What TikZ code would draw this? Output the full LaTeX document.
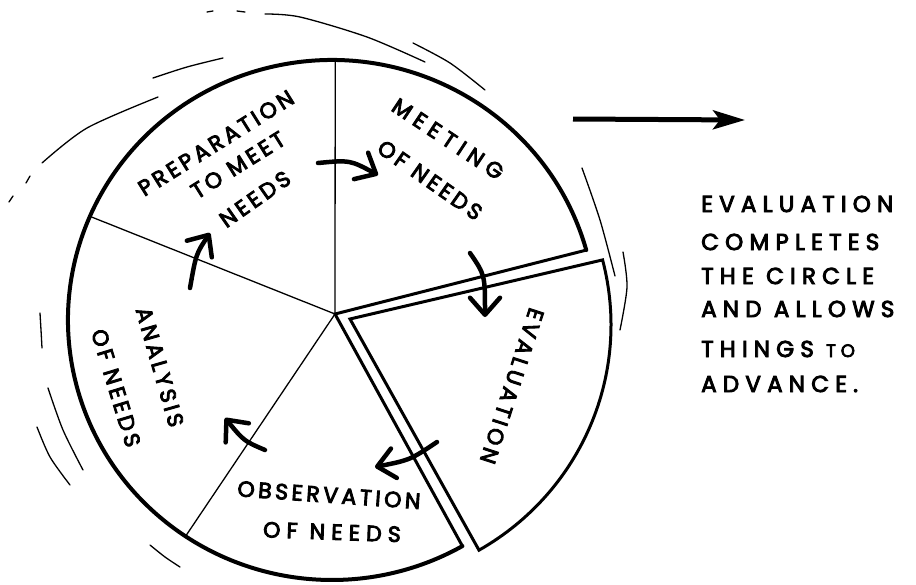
\documentclass[tikz,border=0pt]{standalone}
\usepackage{fontspec}
\newfontfamily\handA[LetterSpace=16,FakeBold=4]{Poppins}
\newfontfamily\handW[LetterSpace=28,FakeBold=4]{Poppins}
\newfontfamily\handB[LetterSpace=27,FakeBold=4]{Poppins}
\usetikzlibrary{arrows.meta,calc}
\begin{document}
\begin{tikzpicture}[x=1pt,y=-1pt,
  thinline/.style={line width=1.3pt},
  rim/.style={line width=4pt, line cap=round},
  edge/.style={line width=3pt, line cap=round},
  evalrim/.style={line width=3pt, line join=miter},
  swoosh/.style={line width=1.3pt, line cap=round},
  flow/.style={line width=4.5pt, line cap=round, -{Straight Barb[round,length=17pt,width=30pt]}},
  bigarrow/.style={line width=5pt, -{Stealth[length=32pt,width=19pt,inset=7pt]}},
  lbl/.style={font=\handA\fontsize{22}{24}\selectfont, inner sep=0pt},
  wlbl/.style={font=\handW\fontsize{22}{24}\selectfont, inner sep=0pt},
  note/.style={font=\handB\fontsize{23}{25}\selectfont, inner sep=0pt, anchor=base west},
]
\useasboundingbox (0,0) rectangle (916,584);
% geometry
\coordinate (E) at (332,320);
\coordinate (V) at (335,314);
\coordinate (pTop) at ($(E)+(-89.3:264 and 260)$);
\coordinate (pUL) at ($(E)+(-156.5:264 and 260)$);
\coordinate (pLL) at ($(E)+(123.7:264 and 260)$);
\coordinate (pMeet) at ($(E)+(-15.6:264 and 260)$);
\coordinate (pObs) at ($(E)+(60.4:264 and 260)$);
\coordinate (E2) at (347,325);
\coordinate (V2) at (350,319);
\coordinate (q1) at ($(E2)+(-14.5:264 and 260)$);
% main pie
\draw[rim] (pMeet) arc[start angle=-15.6, end angle=-299.6, x radius=264, y radius=260];
\draw[edge] (pMeet) -- (V) -- (pObs);
\draw[thinline] (V) -- (pTop);
\draw[thinline] (V) -- (pUL);
\draw[thinline] (V) -- (pLL);
% exploded evaluation slice
\draw[evalrim] (V2) -- (q1) arc[start angle=-14.5, end angle=60, x radius=264, y radius=260] -- cycle;
% motion marks
\draw[swoosh] plot[smooth] coordinates {(265,14) (300,17) (367,37) (425,62)};
\draw[swoosh] plot[smooth] coordinates {(413,43) (450,63) (485,90)};
\draw[swoosh] plot[smooth] coordinates {(153,78) (187,67) (223,58)};
\draw[swoosh] plot[smooth] coordinates {(42,163) (87,128) (158,97)};
\draw[swoosh] (26,183) -- (30,176);
\draw[swoosh] (9,202) -- (13,196);
\draw[swoosh] (207,12) -- (213,11);
\draw[swoosh] (237,11) -- (245,12);
\draw[swoosh] plot[smooth] coordinates {(582,168) (600,220) (615,276)};
\draw[swoosh] plot[smooth] coordinates {(623,252) (627,287) (620,330)};
\draw[swoosh] plot[smooth] coordinates {(40,313) (41,330) (42,348)};
\draw[swoosh] plot[smooth] coordinates {(48,388) (63,430) (83,470)};
\draw[swoosh] plot[smooth] coordinates {(37,427) (50,457) (70,485)};
\draw[swoosh] plot[smooth] coordinates {(150,545) (165,557) (180,567)};
% labels
\node[lbl, rotate=32] (prep) at (216,143) {PREPARATION};
\node[lbl, rotate=32] (tomeet) at (238,165) {TO MEET};
\node[lbl, rotate=35] (needsA) at (255,199) {NEEDS};
\node[wlbl, rotate=-33.5] (meet) at (448,139) {MEETING};
\node[lbl, rotate=-35] (ofneedsB) at (430,180) {OF NEEDS};
\node[lbl, rotate=-108] (evalL) at (512,386) {EVALUATION};
\node[lbl, rotate=-4] (obs) at (329,495) {OBSERVATION};
\node[wlbl, rotate=-2] (ofneedsC) at (332,532) {OF NEEDS};
\node[lbl, rotate=-74] (anal) at (160,367) {ANALYSIS};
\node[lbl, rotate=-73] (ofneedsD) at (116,388) {OF NEEDS};
% cycle arrows
\coordinate (a1s) at (318,163); \coordinate (a1e) at (378,175);
\coordinate (a2s) at (470,253); \coordinate (a2e) at (485,317);
\coordinate (a3s) at (437,442); \coordinate (a3e) at (375,467);
\coordinate (a4s) at (265,450); \coordinate (a4e) at (225,418);
\coordinate (a5s) at (190,288); \coordinate (a5e) at (210,233);
\draw[flow] (a1s) .. controls (350,160) .. (a1e);
\draw[flow] (a2s) .. controls (485,275) .. (a2e);
\draw[flow] (a3s) .. controls (410,460) .. (a3e);
\draw[flow] (a4s) .. controls (244,441) .. (a4e);
\draw[flow] (a5s) .. controls (196,254) .. (a5e);
% big arrow and note
\coordinate (r1) at (573,119); \coordinate (r2) at (745,120);
\draw[bigarrow] (r1) -- (r2);
\node[note] (n1) at (701,212) {EVALUATION};
\node[note] (n2) at (701,250) {COMPLETES};
\node[note] (n3) at (701,284) {THE CIRCLE};
\node[note] (n4) at (701,317) {AND ALLOWS};
\node[note] (n5) at (701,357) {THINGS {\fontsize{18}{20}\selectfont TO}};
\node[note] (n6) at (701,392) {ADVANCE.};
\end{tikzpicture}
\end{document}
